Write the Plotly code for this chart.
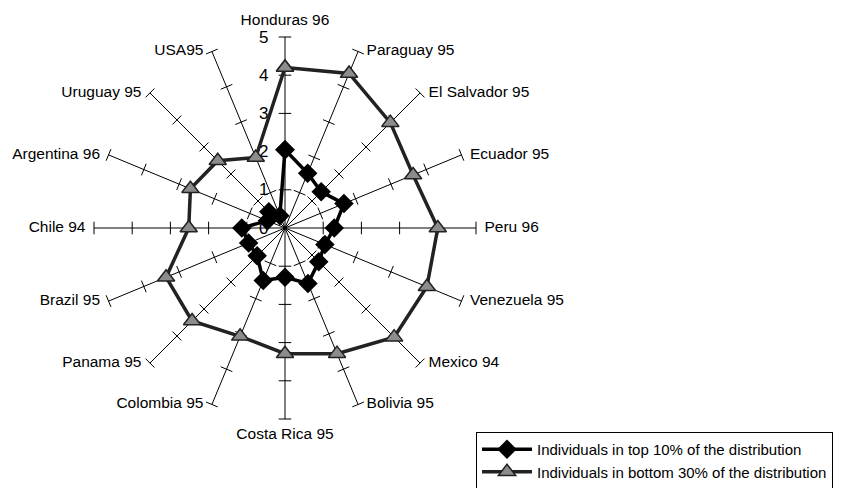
import plotly.graph_objects as go

categories = ["Honduras 96", "Paraguay 95", "El Salvador 95", "Ecuador 95", "Peru 96",
              "Venezuela 95", "Mexico 94", "Bolivia 95", "Costa Rica 95", "Colombia 95",
              "Panama 95", "Brazil 95", "Chile 94", "Argentina 96", "Uruguay 95", "USA95"]
top10 = [2.05, 1.55, 1.34, 1.67, 1.29, 1.13, 1.25, 1.57, 1.29, 1.49,
         1.03, 1.03, 1.13, 0.5, 0.6, 0.35]
bottom30 = [4.2, 4.38, 3.9, 3.63, 4.0, 4.02, 4.04, 3.56, 3.29, 3.07,
            3.44, 3.37, 2.52, 2.68, 2.49, 2.0]
radial_ticks = [0, 1, 2, 3, 4, 5]
series_names = ["Individuals in top 10% of the distribution",
                "Individuals in bottom 30% of the distribution"]

# label placement around the spoke ends (style only)
label_pos = ["top center", "middle right", "middle right", "middle right", "middle right",
             "middle right", "middle right", "middle right", "bottom center", "middle left",
             "middle left", "middle left", "middle left", "middle left", "middle left",
             "middle left"]

n = len(categories)
step = 360.0 / n
rmax = radial_ticks[-1]

fig = go.Figure()

# tick marks on each spoke
tr, tt, ta = [], [], []
for i, c in enumerate(categories):
    for k in radial_ticks[1:]:
        tr.append(k)
        tt.append(c)
        ta.append(i * step)
fig.add_trace(go.Scatterpolar(
    r=tr, theta=tt, mode="markers", showlegend=False, hoverinfo="skip",
    marker=dict(symbol="line-ew", size=9, angle=ta,
                line=dict(color="black", width=1), color="black")))

# category labels at spoke ends
fig.add_trace(go.Scatterpolar(
    r=[rmax] * n, theta=categories, mode="markers+text", text=categories,
    textposition=label_pos, cliponaxis=False, showlegend=False, hoverinfo="skip",
    marker=dict(size=12, opacity=0),
    textfont=dict(size=15.5, color="black")))

fig.add_trace(go.Scatterpolar(
    r=top10 + top10[:1], theta=categories + categories[:1],
    mode="lines+markers", name=series_names[0],
    line=dict(color="black", width=3.5),
    marker=dict(symbol="diamond", size=15, color="black")))

fig.add_trace(go.Scatterpolar(
    r=bottom30 + bottom30[:1], theta=categories + categories[:1],
    mode="lines+markers", name=series_names[1],
    line=dict(color="#222222", width=3.5),
    marker=dict(symbol="triangle-up", size=15, color="#8c8c8c",
                line=dict(color="#222222", width=1.5))))

R = 191
cx, cy = 277, 220
W, H = 841, 488

fig.update_layout(
    width=W, height=H,
    margin=dict(l=0, r=0, t=0, b=0),
    paper_bgcolor="white", plot_bgcolor="white",
    font=dict(family="Liberation Sans, Arial, sans-serif", size=15.5, color="black"),
    polar=dict(
        domain=dict(x=[(cx - R) / W, (cx + R) / W],
                    y=[1 - (cy + R) / H, 1 - (cy - R) / H]),
        bgcolor="white",
        angularaxis=dict(direction="clockwise", rotation=90, showline=False,
                         showgrid=True, gridcolor="black", gridwidth=1,
                         ticks="", showticklabels=False,
                         categoryorder="array", categoryarray=categories),
        radialaxis=dict(range=[0, rmax], tickvals=radial_ticks, showgrid=False,
                        showline=False, ticks="outside", ticklen=10,
                        tickcolor="rgba(0,0,0,0)", angle=90, side="counterclockwise",
                        tickangle=90, layer="below traces",
                        tickfont=dict(size=17, color="black")),
    ),
    legend=dict(x=468 / W, y=1 - 424 / H, xanchor="left", yanchor="top",
                bordercolor="black", borderwidth=1, bgcolor="white",
                font=dict(size=15, color="black"),
                traceorder="normal", itemwidth=50, tracegroupgap=0),
    showlegend=True,
)

fig.write_html("out.html")
